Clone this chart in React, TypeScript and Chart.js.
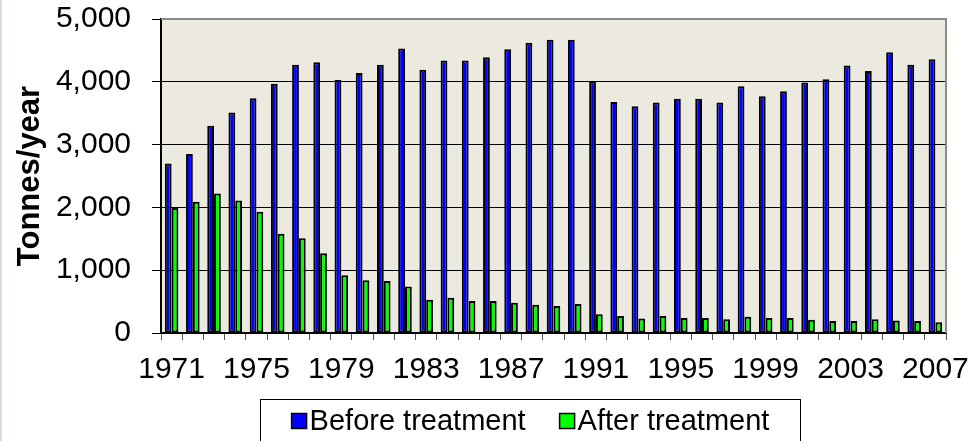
import { useEffect, useRef } from 'react';
import { Chart, registerables } from 'chart.js';

Chart.register(...registerables);

const years = [
  '1971', '1972', '1973', '1974', '1975', '1976', '1977', '1978', '1979', '1980',
  '1981', '1982', '1983', '1984', '1985', '1986', '1987', '1988', '1989', '1990',
  '1991', '1992', '1993', '1994', '1995', '1996', '1997', '1998', '1999', '2000',
  '2001', '2002', '2003', '2004', '2005', '2006', '2007',
];

const beforeTreatment = [
  2700, 2850, 3300, 3510, 3740, 3970, 4270, 4310, 4030, 4140,
  4270, 4530, 4190, 4340, 4340, 4390, 4520, 4620, 4670, 4670,
  4010, 3680, 3610, 3670, 3730, 3730, 3670, 3930, 3770, 3850,
  3990, 4040, 4260, 4170, 4470, 4270, 4360,
];

const afterTreatment = [
  1990, 2090, 2220, 2110, 1930, 1580, 1510, 1270, 920, 840,
  830, 740, 530, 560, 510, 510, 480, 450, 430, 460,
  300, 270, 230, 270, 240, 240, 220, 260, 240, 240,
  210, 190, 190, 220, 200, 190, 170,
];

const seriesLabels = ['Before treatment', 'After treatment'];
const seriesColors = ['#0000FF', '#00FF00'];
const yAxisTitle = 'Tonnes/year';
const yMin = 0;
const yMax = 5000;
const yStep = 1000;
const xLabelEvery = 4;

const FONT = '"Liberation Sans", Arial, sans-serif';

const fmt = (v: number) => String(v).replace(/\B(?=(\d{3})+(?!\d))/g, ',');

const framePlugin = {
  id: 'frameAndLegend',
  beforeDraw(chart: any) {
    const { ctx, chartArea } = chart;
    const { left, top, right, bottom } = chartArea;
    ctx.save();
    ctx.fillStyle = '#ECE9DF';
    ctx.fillRect(left, top, right - left, bottom - top);
    ctx.restore();
  },
  afterDraw(chart: any) {
    const { ctx, chartArea } = chart;
    const { left, top, right, bottom } = chartArea;
    ctx.save();
    ctx.strokeStyle = '#8A8A8A';
    ctx.lineWidth = 2;
    ctx.beginPath();
    ctx.moveTo(left, top);
    ctx.lineTo(right, top);
    ctx.lineTo(right, bottom);
    ctx.stroke();

    // legend
    ctx.font = `29px ${FONT}`;
    const sq = 15;
    const gapSqText = 3;
    const itemGap = 34;
    const widths = seriesLabels.map((l) => ctx.measureText(l).width);
    const total = widths.reduce((a, w) => a + sq + gapSqText + w, 0) + itemGap * (seriesLabels.length - 1);
    const boxLeft = 260.5;
    const boxRight = 800.5;
    const boxTop = 399.5;
    const cx = (boxLeft + boxRight) / 2;
    ctx.strokeStyle = '#000';
    ctx.lineWidth = 1;
    ctx.strokeRect(boxLeft, boxTop, boxRight - boxLeft, 80);
    let x = cx - total / 2;
    const midY = 421;
    seriesLabels.forEach((l, i) => {
      ctx.fillStyle = seriesColors[i];
      ctx.fillRect(x, midY - sq / 2, sq, sq);
      ctx.strokeStyle = '#000';
      ctx.lineWidth = 1.5;
      ctx.strokeRect(x, midY - sq / 2, sq, sq);
      ctx.fillStyle = '#000';
      ctx.textBaseline = 'middle';
      ctx.textAlign = 'left';
      ctx.fillText(l, x + sq + gapSqText, midY + 1);
      x += sq + gapSqText + widths[i] + itemGap;
    });
    ctx.restore();
  },
};

export default function App() {
  const ref = useRef<HTMLCanvasElement | null>(null);

  useEffect(() => {
    if (!ref.current) return;
    const chart = new Chart(ref.current, {
      type: 'bar',
      data: {
        labels: years,
        datasets: [
          {
            label: seriesLabels[0],
            data: beforeTreatment,
            backgroundColor: seriesColors[0],
            borderColor: '#000',
            borderWidth: 2,
            borderSkipped: false,
          },
          {
            label: seriesLabels[1],
            data: afterTreatment,
            backgroundColor: seriesColors[1],
            borderColor: '#000',
            borderWidth: 2,
            borderSkipped: false,
          },
        ],
      },
      options: {
        responsive: false,
        animation: false,
        events: [],
        datasets: {
          bar: {
            categoryPercentage: 0.64,
            barPercentage: 1.0,
          },
        },
        layout: { padding: { top: 19, right: 27, bottom: 0, left: 0 } },
        plugins: {
          legend: { display: false },
          tooltip: { enabled: false },
        },
        scales: {
          x: {
            offset: true,
            grid: {
              offset: true,
              drawOnChartArea: false,
              drawTicks: true,
              tickLength: 7,
              tickColor: '#555',
              tickWidth: 1,
            },
            border: { display: true, color: '#000', width: 2 },
            ticks: {
              autoSkip: false,
              maxRotation: 0,
              minRotation: 0,
              padding: 12,
              color: '#000',
              font: { family: FONT, size: 30 },
              callback: (_v: any, i: number) => (i % xLabelEvery === 0 ? years[i] : ''),
            },
            afterFit: (scale: any) => {
              scale.height = 108;
              scale.paddingLeft = 0;
              scale.paddingRight = 0;
            },
          },
          y: {
            min: yMin,
            max: yMax,
            ticks: {
              stepSize: yStep,
              padding: 21,
              color: '#000',
              font: { family: FONT, size: 30 },
              callback: (v: any) => fmt(Number(v)),
            },
            grid: {
              color: '#000',
              lineWidth: 1,
              drawTicks: true,
              tickLength: 9,
              tickColor: '#000',
              tickWidth: 1,
            },
            border: { display: true, color: '#000', width: 2 },
            title: {
              display: true,
              text: yAxisTitle,
              color: '#000',
              font: { family: FONT, size: 31, weight: 'bold' },
              padding: { top: 12, bottom: 0 },
            },
            afterFit: (scale: any) => {
              scale.width = 161;
              scale.paddingTop = 0;
              scale.paddingBottom = 0;
            },
          },
        },
      },
      plugins: [framePlugin],
    });
    return () => chart.destroy();
  }, []);

  return (
    <div style={{ position: 'fixed', left: 0, top: 0, width: 973, height: 441, background: '#fff', overflow: 'hidden' }}>
      <canvas ref={ref} width={973} height={441} style={{ display: 'block' }} />
      <div style={{ position: 'absolute', left: 0, top: 0, width: 2, height: 441, background: '#D4DEEA' }} />
    </div>
  );
}
